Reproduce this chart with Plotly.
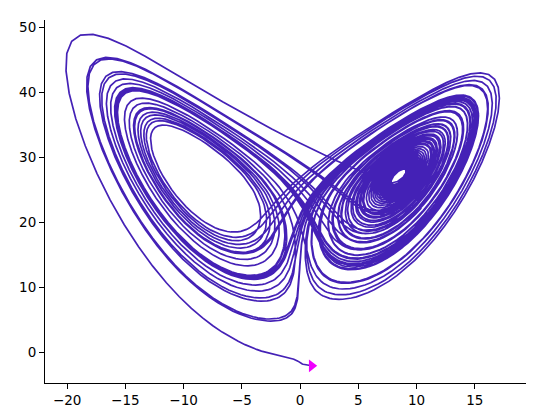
import numpy as np
import plotly.graph_objects as go

# Lorenz system parameters and the starting state of the trajectory
SIGMA = 10.0
RHO = 28.0
BETA = 8.0 / 3.0
INITIAL_STATE = [1.0, -1.44, -2.1]   # x0, y0, z0
T_END = 65.0
DT = 0.01

# axis tick values
X_TICKS = [-20, -15, -10, -5, 0, 5, 10, 15]
Y_TICKS = [0, 10, 20, 30, 40, 50]

LINE_COLOR = "#4421b6"
START_COLOR = "#f000ff"


def lorenz(s):
    x, y, z = s
    return np.array([SIGMA * (y - x), x * (RHO - z) - y, x * y - BETA * z])


def integrate(s0, t_end, dt):
    n = int(round(t_end / dt))
    s = np.array(s0, float)
    out = np.empty((n + 1, 3))
    out[0] = s
    for i in range(n):
        k1 = lorenz(s)
        k2 = lorenz(s + 0.5 * dt * k1)
        k3 = lorenz(s + 0.5 * dt * k2)
        k4 = lorenz(s + dt * k3)
        s = s + dt / 6.0 * (k1 + 2 * k2 + 2 * k3 + k4)
        out[i + 1] = s
    return out


traj = integrate(INITIAL_STATE, T_END, DT)
xs, zs = traj[:, 0], traj[:, 2]

fig = go.Figure()
fig.add_trace(go.Scatter(x=xs, y=zs, mode="lines",
                         line=dict(width=1.7, color=LINE_COLOR),
                         hoverinfo="skip"))
fig.add_trace(go.Scatter(x=[xs[0]], y=[zs[0]], mode="markers",
                         marker=dict(symbol="triangle-right", size=11,
                                     color=START_COLOR)))

axis_font = dict(family="DejaVu Sans", size=13.5, color="black")
fig.update_xaxes(range=[-21.9, 19.4], tickvals=X_TICKS, showline=True,
                 linecolor="black", linewidth=1, ticks="outside", ticklen=5,
                 tickwidth=1, tickcolor="black", showgrid=False,
                 zeroline=False, tickfont=axis_font)
fig.update_yaxes(range=[-4.75, 51.1], tickvals=Y_TICKS, showline=True,
                 linecolor="black", linewidth=1, ticks="outside", ticklen=5,
                 tickwidth=1, tickcolor="black", showgrid=False,
                 zeroline=False, tickfont=axis_font)
fig.update_layout(showlegend=False, width=540, height=411,
                  margin=dict(l=37, r=22, t=11, b=32),
                  plot_bgcolor="white", paper_bgcolor="white")
fig.write_html("out.html")
